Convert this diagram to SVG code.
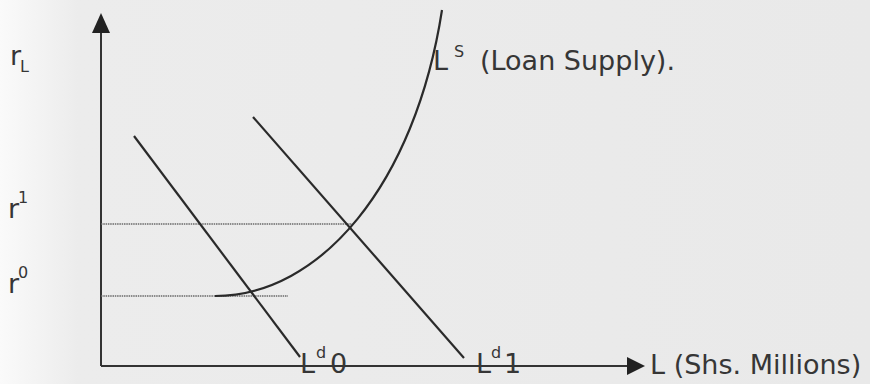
<svg xmlns="http://www.w3.org/2000/svg" width="870" height="384" viewBox="0 0 870 384">
<defs>
<linearGradient id="bg" x1="0" y1="0" x2="1" y2="0">
<stop offset="0" stop-color="#fafafa"/>
<stop offset="0.09" stop-color="#ececec"/>
<stop offset="1" stop-color="#e9e9e9"/>
</linearGradient>
</defs>
<style>
.ax{stroke:#333;stroke-width:2;fill:none}
.crv{stroke:#2a2a2a;stroke-width:2.2;fill:none}
.lvl{stroke:#6a6a6a;stroke-width:1.6;stroke-dasharray:1.5 0.8;fill:none}
.t{font-family:"DejaVu Sans",Verdana,sans-serif;fill:#363636;font-size:27px}
.s{font-family:"DejaVu Sans",Verdana,sans-serif;fill:#363636;font-size:16px}
</style>
<rect width="870" height="384" fill="url(#bg)"/>
<g id="connectors">
<line class="ax" x1="101" y1="366" x2="101" y2="32"/>
<path d="M92,33 L101,13 L110,33 z" fill="#222"/>
<line class="ax" x1="101" y1="366" x2="628" y2="366"/>
<path d="M627,357 L645,366 L627,375 z" fill="#222"/>
<line class="lvl" x1="101" y1="224" x2="352" y2="224"/>
<line class="lvl" x1="101" y1="296" x2="288" y2="296"/>
</g>
<g id="Ld0">
<line class="crv" x1="134" y1="136" x2="300" y2="357"/>
<text class="t" x="300" y="373">L</text>
<text class="s" x="316" y="358">d</text>
<text class="t" x="330" y="373">0</text>
</g>
<g id="Ld1">
<line class="crv" x1="253" y1="117" x2="464" y2="358"/>
<text class="t" x="476" y="373">L</text>
<text class="s" x="491" y="358">d</text>
<text class="t" x="504" y="373">1</text>
</g>
<g id="LS">
<path class="crv" d="M215,296 C320,296 415,185 442,10"/>
<text class="t" x="433" y="70">L</text>
<text class="s" x="454" y="57">S</text>
<text class="t" x="480" y="70">(Loan Supply).</text>
</g>
<g id="labels">
<text class="t" x="10" y="65">r</text>
<text class="s" x="20" y="72">L</text>
<text class="t" x="8" y="218">r</text>
<text class="s" x="18" y="203">1</text>
<text class="t" x="8" y="293">r</text>
<text class="s" x="18" y="278">0</text>
<text class="t" x="650" y="374">L (Shs. Millions)</text>
</g>
</svg>
